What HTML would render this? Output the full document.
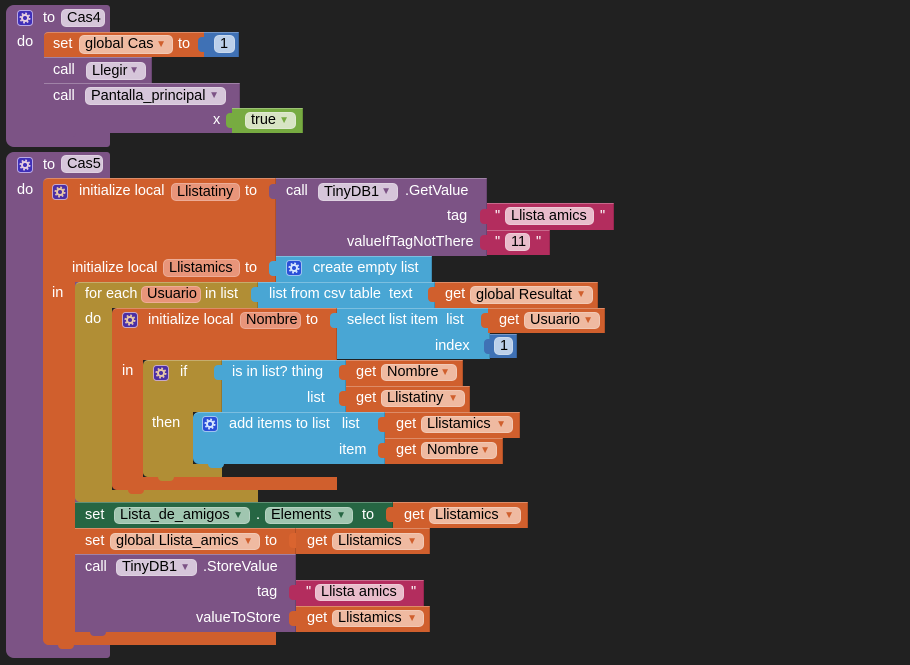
<!DOCTYPE html>
<html><head><meta charset="utf-8"><style>
html,body{margin:0;padding:0;background:#212121;width:910px;height:665px;overflow:hidden}
.r{position:absolute;box-sizing:border-box}
.P{background:#7c5385}.O{background:#d05f2d}.C{background:#b18e35}.L{background:#49a6d4}
.M{background:#3f71b5}.T{background:#b32d5e}.G{background:#77ab41}.S{background:#266643}
.hl{border-top:1px solid rgba(255,255,255,.28);border-right:1px solid rgba(0,0,0,.15)}
.t{position:absolute;color:#fff;font:14.5px/16px "Liberation Sans",sans-serif;white-space:pre}
.p{position:absolute;box-sizing:border-box;border-radius:5px;color:#000;font:14.5px/17px "Liberation Sans",sans-serif;white-space:pre;padding-left:5px;border:1px solid rgba(255,255,255,.22)}
.pp{background:#d6c6da}.po{background:#efbaa1}.pn{background:#e8957a}.pg{background:#a0c6b0}.pt{background:#e9bccb}.pm{background:#bcd0ea}.pl{background:#d8e4c4}
.a{position:absolute;right:6px;top:0;font-size:10px;line-height:17px}
.g{position:absolute;width:16px;height:16px}
</style></head><body>

<!-- ===== Cas4 ===== -->
<div class="r P" style="left:6px;top:5px;width:104px;height:142px;border-radius:8px 3px 3px 8px"></div>
<div class="r O hl" style="left:44px;top:32px;width:163px;height:25px;border-radius:4px 0 0 0"></div>
<div class="r M" style="left:198px;top:37px;width:8px;height:15px;border-radius:4px 0 0 4px"></div>
<div class="r M hl" style="left:204px;top:32px;width:35px;height:25px"></div>
<div class="r P hl" style="left:44px;top:57px;width:108px;height:26px"></div>
<div class="r P hl" style="left:44px;top:83px;width:196px;height:50px;border-radius:0 0 0 5px"></div>
<div class="r P" style="left:60px;top:132px;width:16px;height:5px;border-radius:0 0 4px 4px"></div>
<div class="r G" style="left:226px;top:113px;width:8px;height:15px;border-radius:4px 0 0 4px"></div>
<div class="r G hl" style="left:232px;top:108px;width:71px;height:25px"></div>

<svg class="g" style="left:17px;top:10px" viewBox="0 0 16 16"><rect x=".5" y=".5" width="15" height="15" rx="3" fill="#3f2fb8" stroke="#b9a8e6"/><circle cx="8" cy="8" r="3" fill="none" stroke="#e8cfe0" stroke-width="2"/><circle cx="8" cy="8" r="4.7" fill="none" stroke="#e8cfe0" stroke-width="1.6" stroke-dasharray="1.8 1.9"/></svg>
<div class="t" style="left:43px;top:10px">to</div>
<div class="p pp" style="left:61px;top:9px;width:44px;height:18px;line-height:16px">Cas4</div>
<div class="t" style="left:17px;top:34px">do</div>
<div class="t" style="left:53px;top:36px">set</div>
<div class="p po" style="left:79px;top:35px;width:94px;height:19px">global Cas<span class="a" style="color:#d05f2d">▼</span></div>
<div class="t" style="left:178px;top:36px">to</div>
<div class="p pm" style="left:214px;top:35px;width:21px;height:18px;line-height:16px">1</div>
<div class="t" style="left:53px;top:62px">call</div>
<div class="p pp" style="left:86px;top:62px;width:60px;height:18px;line-height:16px">Llegir<span class="a" style="color:#7c5385;line-height:16px">▼</span></div>
<div class="t" style="left:53px;top:88px">call</div>
<div class="p pp" style="left:85px;top:87px;width:141px;height:18px;line-height:16px">Pantalla_principal<span class="a" style="color:#7c5385;line-height:16px">▼</span></div>
<div class="t" style="left:213px;top:112px">x</div>
<div class="p pl" style="left:245px;top:112px;width:51px;height:17px;line-height:15px">true<span class="a" style="color:#77ab41;line-height:15px">▼</span></div>

<!-- ===== Cas5 ===== -->
<div class="r P" style="left:6px;top:152px;width:104px;height:506px;border-radius:8px 3px 3px 8px"></div>
<!-- outer init -->
<div class="r O hl" style="left:43px;top:178px;width:233px;height:104px;border-radius:5px 0 0 0"></div>
<div class="r O" style="left:43px;top:282px;width:32px;height:363px;border-radius:0 0 0 6px"></div>
<div class="r O" style="left:43px;top:632px;width:233px;height:13px;border-radius:0 0 0 6px"></div>
<div class="r O" style="left:58px;top:644px;width:16px;height:5px;border-radius:0 0 4px 4px"></div>
<!-- GetValue -->
<div class="r P" style="left:269px;top:184px;width:8px;height:15px;border-radius:4px 0 0 4px"></div>
<div class="r P hl" style="left:276px;top:178px;width:211px;height:78px"></div>
<div class="r T" style="left:480px;top:209px;width:8px;height:15px;border-radius:4px 0 0 4px"></div>
<div class="r T hl" style="left:487px;top:203px;width:127px;height:27px"></div>
<div class="r T" style="left:480px;top:235px;width:8px;height:15px;border-radius:4px 0 0 4px"></div>
<div class="r T hl" style="left:487px;top:230px;width:63px;height:25px"></div>
<!-- create empty list -->
<div class="r L" style="left:269px;top:261px;width:8px;height:15px;border-radius:4px 0 0 4px"></div>
<div class="r L hl" style="left:276px;top:256px;width:156px;height:26px"></div>
<!-- for each -->
<div class="r C hl" style="left:75px;top:282px;width:183px;height:26px;border-radius:5px 0 0 0"></div>
<div class="r C" style="left:75px;top:308px;width:37px;height:194px;border-radius:0 0 0 5px"></div>
<div class="r C" style="left:75px;top:490px;width:183px;height:12px;border-radius:0 0 0 5px"></div>
<div class="r L" style="left:251px;top:287px;width:8px;height:15px;border-radius:4px 0 0 4px"></div>
<div class="r L hl" style="left:258px;top:282px;width:177px;height:26px"></div>
<div class="r O" style="left:428px;top:287px;width:8px;height:15px;border-radius:4px 0 0 4px"></div>
<div class="r O hl" style="left:435px;top:282px;width:163px;height:26px"></div>
<!-- init Nombre -->
<div class="r O hl" style="left:112px;top:308px;width:225px;height:52px;border-radius:5px 0 0 0"></div>
<div class="r O" style="left:112px;top:360px;width:31px;height:130px;border-radius:0 0 0 5px"></div>
<div class="r O" style="left:112px;top:477px;width:225px;height:13px;border-radius:0 0 0 5px"></div>
<div class="r O" style="left:128px;top:489px;width:16px;height:5px;border-radius:0 0 4px 4px"></div>
<div class="r L" style="left:330px;top:313px;width:8px;height:15px;border-radius:4px 0 0 4px"></div>
<div class="r L hl" style="left:337px;top:308px;width:153px;height:51px"></div>
<div class="r O" style="left:481px;top:313px;width:8px;height:15px;border-radius:4px 0 0 4px"></div>
<div class="r O hl" style="left:488px;top:308px;width:117px;height:25px"></div>
<div class="r M" style="left:484px;top:339px;width:8px;height:15px;border-radius:4px 0 0 4px"></div>
<div class="r M hl" style="left:490px;top:334px;width:27px;height:24px"></div>
<!-- if -->
<div class="r C hl" style="left:143px;top:360px;width:79px;height:52px;border-radius:5px 0 0 0"></div>
<div class="r C" style="left:143px;top:412px;width:50px;height:65px;border-radius:0 0 0 5px"></div>
<div class="r C" style="left:143px;top:464px;width:79px;height:13px;border-radius:0 0 0 5px"></div>
<div class="r C" style="left:158px;top:476px;width:16px;height:5px;border-radius:0 0 4px 4px"></div>
<div class="r L" style="left:214px;top:365px;width:9px;height:15px;border-radius:4px 0 0 4px"></div>
<div class="r L hl" style="left:222px;top:360px;width:124px;height:52px"></div>
<div class="r O" style="left:339px;top:365px;width:8px;height:15px;border-radius:4px 0 0 4px"></div>
<div class="r O hl" style="left:346px;top:360px;width:117px;height:26px"></div>
<div class="r O" style="left:339px;top:391px;width:8px;height:15px;border-radius:4px 0 0 4px"></div>
<div class="r O hl" style="left:346px;top:386px;width:124px;height:26px"></div>
<!-- add items -->
<div class="r L hl" style="left:193px;top:412px;width:192px;height:52px;border-radius:6px 0 0 6px"></div>
<div class="r L" style="left:208px;top:463px;width:16px;height:5px;border-radius:0 0 4px 4px"></div>
<div class="r O" style="left:378px;top:417px;width:8px;height:15px;border-radius:4px 0 0 4px"></div>
<div class="r O hl" style="left:385px;top:412px;width:135px;height:26px"></div>
<div class="r O" style="left:378px;top:443px;width:8px;height:15px;border-radius:4px 0 0 4px"></div>
<div class="r O hl" style="left:385px;top:438px;width:118px;height:26px"></div>
<!-- setter green -->
<div class="r S hl" style="left:75px;top:502px;width:318px;height:26px"></div>
<div class="r O" style="left:386px;top:507px;width:8px;height:15px;border-radius:4px 0 0 4px"></div>
<div class="r O hl" style="left:393px;top:502px;width:135px;height:26px"></div>
<!-- set global -->
<div class="r O hl" style="left:75px;top:528px;width:221px;height:26px"></div>
<div class="r O" style="left:289px;top:533px;width:8px;height:15px;border-radius:4px 0 0 4px;filter:brightness(1.05)"></div>
<div class="r O hl" style="left:296px;top:528px;width:134px;height:26px"></div>
<!-- StoreValue -->
<div class="r P hl" style="left:75px;top:554px;width:221px;height:78px;border-radius:0 0 0 5px"></div>
<div class="r P" style="left:90px;top:631px;width:16px;height:5px;border-radius:0 0 4px 4px"></div>
<div class="r T" style="left:289px;top:585px;width:8px;height:15px;border-radius:4px 0 0 4px"></div>
<div class="r T hl" style="left:296px;top:580px;width:128px;height:26px"></div>
<div class="r O" style="left:289px;top:611px;width:8px;height:15px;border-radius:4px 0 0 4px"></div>
<div class="r O hl" style="left:296px;top:606px;width:134px;height:26px"></div>

<!-- Cas5 texts -->
<svg class="g" style="left:17px;top:157px" viewBox="0 0 16 16"><rect x=".5" y=".5" width="15" height="15" rx="3" fill="#3f2fb8" stroke="#b9a8e6"/><circle cx="8" cy="8" r="3" fill="none" stroke="#e8cfe0" stroke-width="2"/><circle cx="8" cy="8" r="4.7" fill="none" stroke="#e8cfe0" stroke-width="1.6" stroke-dasharray="1.8 1.9"/></svg>
<div class="t" style="left:43px;top:157px">to</div>
<div class="p pp" style="left:61px;top:155px;width:42px;height:18px;line-height:16px">Cas5</div>
<div class="t" style="left:17px;top:182px">do</div>

<svg class="g" style="left:52px;top:184px" viewBox="0 0 16 16"><rect x=".5" y=".5" width="15" height="15" rx="3" fill="#4a2fa6" stroke="#c8a8c8"/><circle cx="8" cy="8" r="3" fill="none" stroke="#e8c8a8" stroke-width="2"/><circle cx="8" cy="8" r="4.7" fill="none" stroke="#e8c8a8" stroke-width="1.6" stroke-dasharray="1.8 1.9"/></svg>
<div class="t" style="left:79px;top:183px">initialize local</div>
<div class="p pn" style="left:171px;top:183px;width:69px;height:18px;line-height:16px">Llistatiny</div>
<div class="t" style="left:245px;top:183px">to</div>
<div class="t" style="left:286px;top:183px">call</div>
<div class="p pp" style="left:318px;top:183px;width:80px;height:18px;line-height:16px">TinyDB1<span class="a" style="color:#7c5385;line-height:16px">▼</span></div>
<div class="t" style="left:405px;top:183px">.GetValue</div>
<div class="t" style="left:447px;top:208px">tag</div>
<div class="t" style="left:495px;top:208px">"</div>
<div class="p pt" style="left:505px;top:207px;width:89px;height:18px;line-height:16px">Llista amics</div>
<div class="t" style="left:600px;top:208px">"</div>
<div class="t" style="left:347px;top:234px">valueIfTagNotThere</div>
<div class="t" style="left:495px;top:234px">"</div>
<div class="p pt" style="left:505px;top:233px;width:25px;height:18px;line-height:16px">11</div>
<div class="t" style="left:536px;top:234px">"</div>
<div class="t" style="left:72px;top:260px">initialize local</div>
<div class="p pn" style="left:163px;top:259px;width:77px;height:18px;line-height:16px">Llistamics</div>
<div class="t" style="left:245px;top:260px">to</div>
<svg class="g" style="left:286px;top:260px" viewBox="0 0 16 16"><rect x=".5" y=".5" width="15" height="15" rx="3" fill="#2a4fd8" stroke="#9fc4f0"/><circle cx="8" cy="8" r="3" fill="none" stroke="#d8e8ff" stroke-width="2"/><circle cx="8" cy="8" r="4.7" fill="none" stroke="#d8e8ff" stroke-width="1.6" stroke-dasharray="1.8 1.9"/></svg>
<div class="t" style="left:313px;top:260px">create empty list</div>
<div class="t" style="left:52px;top:285px">in</div>
<div class="t" style="left:85px;top:286px">for each</div>
<div class="p pn" style="left:141px;top:286px;width:60px;height:17px;line-height:15px">Usuario</div>
<div class="t" style="left:205px;top:286px">in list</div>
<div class="t" style="left:269px;top:286px">list from csv table  text</div>
<div class="t" style="left:445px;top:286px">get</div>
<div class="p po" style="left:470px;top:286px;width:123px;height:18px;line-height:16px">global Resultat<span class="a" style="color:#d05f2d;line-height:16px">▼</span></div>
<div class="t" style="left:85px;top:311px">do</div>
<svg class="g" style="left:122px;top:312px" viewBox="0 0 16 16"><rect x=".5" y=".5" width="15" height="15" rx="3" fill="#4a2fa6" stroke="#c8a8c8"/><circle cx="8" cy="8" r="3" fill="none" stroke="#e8c8a8" stroke-width="2"/><circle cx="8" cy="8" r="4.7" fill="none" stroke="#e8c8a8" stroke-width="1.6" stroke-dasharray="1.8 1.9"/></svg>
<div class="t" style="left:148px;top:312px">initialize local</div>
<div class="p pn" style="left:240px;top:312px;width:61px;height:17px;line-height:15px">Nombre</div>
<div class="t" style="left:306px;top:312px">to</div>
<div class="t" style="left:347px;top:312px">select list item  list</div>
<div class="t" style="left:499px;top:312px">get</div>
<div class="p po" style="left:524px;top:312px;width:76px;height:17px;line-height:15px">Usuario<span class="a" style="color:#d05f2d;line-height:15px">▼</span></div>
<div class="t" style="left:435px;top:338px">index</div>
<div class="p pm" style="left:494px;top:337px;width:19px;height:18px;line-height:16px">1</div>
<div class="t" style="left:122px;top:363px">in</div>
<svg class="g" style="left:153px;top:365px" viewBox="0 0 16 16"><rect x=".5" y=".5" width="15" height="15" rx="3" fill="#4a2fa6" stroke="#c8a8c8"/><circle cx="8" cy="8" r="3" fill="none" stroke="#e8c8a8" stroke-width="2"/><circle cx="8" cy="8" r="4.7" fill="none" stroke="#e8c8a8" stroke-width="1.6" stroke-dasharray="1.8 1.9"/></svg>
<div class="t" style="left:180px;top:364px">if</div>
<div class="t" style="left:232px;top:364px">is in list? thing</div>
<div class="t" style="left:356px;top:364px">get</div>
<div class="p po" style="left:381px;top:364px;width:76px;height:17px;line-height:15px">Nombre<span class="a" style="color:#d05f2d;line-height:15px">▼</span></div>
<div class="t" style="left:307px;top:390px">list</div>
<div class="t" style="left:356px;top:390px">get</div>
<div class="p po" style="left:381px;top:390px;width:84px;height:17px;line-height:15px">Llistatiny<span class="a" style="color:#d05f2d;line-height:15px">▼</span></div>
<div class="t" style="left:152px;top:415px">then</div>
<svg class="g" style="left:202px;top:416px" viewBox="0 0 16 16"><rect x=".5" y=".5" width="15" height="15" rx="3" fill="#2a4fd8" stroke="#9fc4f0"/><circle cx="8" cy="8" r="3" fill="none" stroke="#d8e8ff" stroke-width="2"/><circle cx="8" cy="8" r="4.7" fill="none" stroke="#d8e8ff" stroke-width="1.6" stroke-dasharray="1.8 1.9"/></svg>
<div class="t" style="left:229px;top:416px">add items to list   list</div>
<div class="t" style="left:396px;top:416px">get</div>
<div class="p po" style="left:421px;top:416px;width:92px;height:17px;line-height:15px">Llistamics<span class="a" style="color:#d05f2d;line-height:15px">▼</span></div>
<div class="t" style="left:339px;top:442px">item</div>
<div class="t" style="left:396px;top:442px">get</div>
<div class="p po" style="left:421px;top:442px;width:76px;height:17px;line-height:15px">Nombre<span class="a" style="color:#d05f2d;line-height:15px">▼</span></div>
<div class="t" style="left:85px;top:507px">set</div>
<div class="p pg" style="left:114px;top:507px;width:136px;height:17px;line-height:15px">Lista_de_amigos<span class="a" style="color:#266643;line-height:15px">▼</span></div>
<div class="t" style="left:256px;top:507px">.</div>
<div class="p pg" style="left:265px;top:507px;width:88px;height:17px;line-height:15px">Elements<span class="a" style="color:#266643;line-height:15px">▼</span></div>
<div class="t" style="left:362px;top:507px">to</div>
<div class="t" style="left:404px;top:507px">get</div>
<div class="p po" style="left:429px;top:507px;width:92px;height:17px;line-height:15px">Llistamics<span class="a" style="color:#d05f2d;line-height:15px">▼</span></div>
<div class="t" style="left:85px;top:533px">set</div>
<div class="p po" style="left:110px;top:533px;width:150px;height:17px;line-height:15px">global Llista_amics<span class="a" style="color:#d05f2d;line-height:15px">▼</span></div>
<div class="t" style="left:265px;top:533px">to</div>
<div class="t" style="left:307px;top:533px">get</div>
<div class="p po" style="left:332px;top:533px;width:92px;height:17px;line-height:15px">Llistamics<span class="a" style="color:#d05f2d;line-height:15px">▼</span></div>
<div class="t" style="left:85px;top:559px">call</div>
<div class="p pp" style="left:116px;top:559px;width:81px;height:17px;line-height:15px">TinyDB1<span class="a" style="color:#7c5385;line-height:15px">▼</span></div>
<div class="t" style="left:203px;top:559px">.StoreValue</div>
<div class="t" style="left:257px;top:584px">tag</div>
<div class="t" style="left:306px;top:584px">"</div>
<div class="p pt" style="left:315px;top:584px;width:89px;height:17px;line-height:15px">Llista amics</div>
<div class="t" style="left:411px;top:584px">"</div>
<div class="t" style="left:196px;top:610px">valueToStore</div>
<div class="t" style="left:307px;top:610px">get</div>
<div class="p po" style="left:332px;top:610px;width:92px;height:17px;line-height:15px">Llistamics<span class="a" style="color:#d05f2d;line-height:15px">▼</span></div>

</body></html>
